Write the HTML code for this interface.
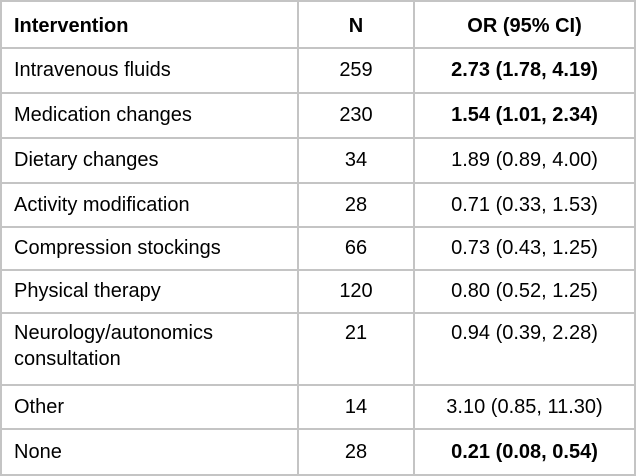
<!DOCTYPE html>
<html><head><style>
html,body{margin:0;padding:0;background:#fff;}
table{position:absolute;left:0;top:0;width:636px;height:476px;border-collapse:collapse;font-family:"Liberation Sans",sans-serif;font-size:20px;color:#000;border:2px solid #bdbdbd;}
td{border:2px solid #c4c4c4;padding:0 0 0 12px;vertical-align:middle;white-space:nowrap;}
td:nth-child(2),td:nth-child(3){text-align:center;padding:0;}
tr.h td{padding-top:4px;}
col.a{width:297px}col.b{width:116px}
.b{font-weight:bold}
</style></head><body>
<table>
<colgroup><col class="a"><col class="b"><col></colgroup>
<tr class="h" style="height:47px"><td class="b">Intervention</td><td class="b">N</td><td class="b">OR (95% CI)</td></tr>
<tr style="height:45px"><td>Intravenous fluids</td><td>259</td><td class="b">2.73 (1.78, 4.19)</td></tr>
<tr style="height:45px"><td>Medication changes</td><td>230</td><td class="b">1.54 (1.01, 2.34)</td></tr>
<tr style="height:45px"><td>Dietary changes</td><td>34</td><td>1.89 (0.89, 4.00)</td></tr>
<tr style="height:44px"><td>Activity modification</td><td>28</td><td>0.71 (0.33, 1.53)</td></tr>
<tr style="height:43px"><td>Compression stockings</td><td>66</td><td>0.73 (0.43, 1.25)</td></tr>
<tr style="height:43px"><td>Physical therapy</td><td>120</td><td>0.80 (0.52, 1.25)</td></tr>
<tr style="height:72px"><td style="vertical-align:top;padding-top:6px;line-height:26px">Neurology/autonomics<br>consultation</td><td style="vertical-align:top;padding-top:6px;line-height:26px">21</td><td style="vertical-align:top;padding-top:6px;line-height:26px">0.94 (0.39, 2.28)</td></tr>
<tr style="height:44px"><td>Other</td><td>14</td><td>3.10 (0.85, 11.30)</td></tr>
<tr style="height:46px"><td>None</td><td>28</td><td class="b">0.21 (0.08, 0.54)</td></tr>
</table>
</body></html>
